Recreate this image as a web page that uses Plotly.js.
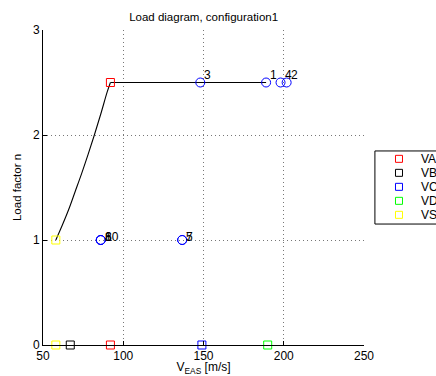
<!DOCTYPE html>
<html><head><meta charset="utf-8">
<script src="https://cdn.plot.ly/plotly-3.0.1.min.js"></script>
<style>body{margin:0;background:#fff}#c{width:436px;height:376px}</style>
</head><body><div id="c"></div>
<script>
// Load envelope
var curveV = [58, 62, 66, 70, 74, 78, 82, 86, 90, 92];
var curveN = [1.00, 1.14, 1.29, 1.46, 1.63, 1.81, 2.00, 2.20, 2.41, 2.50];
var flatV = [92, 189];
var flatN = [2.50, 2.50];

// Characteristic speeds
var speedNames = ['VA', 'VB', 'VC', 'VD', 'VS'];
var speedColors = ['#ff0000', '#000000', '#0000ff', '#00ff00', '#ffff00'];
var speedV = [[92, 92], [67], [149], [190], [58, 58]];
var speedN = [[2.5, 0], [0], [0], [0], [1, 0]];

// Numbered load points
var ptV = [189, 201.8, 148, 198, 136.7, 86, 136.7, 86, 86];
var ptN = [2.5, 2.5, 2.5, 2.5, 1, 1, 1, 1, 1];
var ptLabels = ['1', '2', '3', '4', '5', '6', '7', '8', '10'];

var FONT = 'Liberation Sans, Arial, sans-serif';
var traces = [];
traces.push({x: curveV, y: curveN, mode: 'lines', line: {color: '#000', width: 1.1, shape: 'spline'}, showlegend: false, hoverinfo: 'skip'});
traces.push({x: flatV, y: flatN, mode: 'lines', line: {color: '#000', width: 1.1}, showlegend: false, hoverinfo: 'skip'});
traces.push({x: ptV, y: ptN, mode: 'markers', marker: {symbol: 'circle-open', color: '#0000ff', size: 9, line: {width: 1}}, showlegend: false});
for (var i = 0; i < speedNames.length; i++) {
  traces.push({x: speedV[i], y: speedN[i], name: speedNames[i], mode: 'markers', showlegend: false,
    marker: {symbol: 'square-open', color: speedColors[i], size: 8, line: {width: 1}}, cliponaxis: false});
}

var annotations = ptLabels.map(function(t, i) {
  return {x: ptV[i], y: ptN[i], text: t, xref: 'x', yref: 'y', showarrow: false,
    xanchor: 'left', yanchor: 'middle', xshift: 2, yshift: ptN[i] > 2 ? 8 : 3,
    font: {family: FONT, size: 12, color: '#000'}};
});

// Custom legend (compact, like the original)
var shapes = [{type: 'rect', xref: 'paper', yref: 'paper', x0: 1.034, x1: 1.25, y0: 0.384, y1: 0.616,
  line: {color: '#000', width: 1}, fillcolor: '#fff', layer: 'above'}];
var legTop = 0.591, legStep = 14 / 315;
speedNames.forEach(function(nm, i) {
  var yc = legTop - i * legStep;
  shapes.push({type: 'rect', xref: 'paper', yref: 'paper', xsizemode: 'pixel', ysizemode: 'pixel',
    xanchor: 1.109, yanchor: yc, x0: -3.5, x1: 3.5, y0: -3.5, y1: 3.5,
    line: {color: speedColors[i], width: 1}, fillcolor: 'rgba(0,0,0,0)', layer: 'above'});
  annotations.push({x: 1.172, y: yc, xref: 'paper', yref: 'paper', text: nm, showarrow: false,
    xanchor: 'left', yanchor: 'middle', font: {family: FONT, size: 12, color: '#000'}});
});

var layout = {
  width: 436, height: 376,
  margin: {l: 43, r: 72, t: 30, b: 31, autoexpand: false},
  paper_bgcolor: '#fff', plot_bgcolor: '#fff',
  font: {family: FONT, size: 12, color: '#000'},
  title: {text: 'Load diagram, configuration1', x: 0.467, xanchor: 'center', y: 0.955, yanchor: 'middle', font: {size: 11.5}},
  xaxis: {range: [50, 250], tickvals: [50, 100, 150, 200, 250], ticks: 'inside', ticklen: 4, tickcolor: '#000',
    showline: true, linecolor: '#000', linewidth: 1, zeroline: false, mirror: false,
    showgrid: true, gridcolor: '#777', griddash: '1px,3px', gridwidth: 1,
    title: {text: 'V<sub>EAS</sub> [m/s]', standoff: 2, font: {size: 12}}, fixedrange: true},
  yaxis: {range: [0, 3], tickvals: [0, 1, 2, 3], ticks: 'inside', ticklen: 4, tickcolor: '#000',
    showline: true, linecolor: '#000', linewidth: 1, zeroline: false,
    showgrid: true, gridcolor: '#777', griddash: '1px,3px', gridwidth: 1,
    title: {text: 'Load factor n', standoff: 8, font: {size: 11.5}}, fixedrange: true},
  annotations: annotations,
  shapes: shapes,
  showlegend: false
};
Plotly.newPlot('c', traces, layout, {displayModeBar: false, staticPlot: true});
</script></body></html>
